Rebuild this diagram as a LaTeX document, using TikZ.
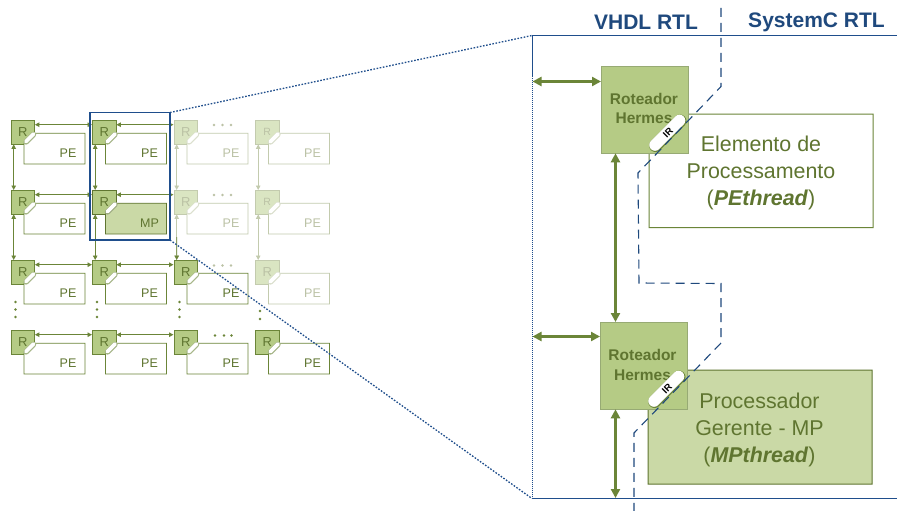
\documentclass[tikz,border=0pt]{standalone}
\usepackage{fontspec}
\setmainfont{Liberation Sans}
\usetikzlibrary{arrows.meta,calc}
\definecolor{gfill}{HTML}{B5CB85}
\definecolor{gline}{HTML}{6B8538}
\definecolor{gtext}{HTML}{5F7530}
\definecolor{mpfill}{HTML}{CAD9A6}
\definecolor{ffill}{HTML}{DAE5C2}
\definecolor{fline}{HTML}{C3CBAE}
\definecolor{ftext}{HTML}{BBC2A5}
\definecolor{frameblue}{HTML}{1F4E8C}
\definecolor{dashblue}{HTML}{1F497D}
\newcommand{\fs}[1]{\fontsize{#1}{#1}\selectfont}
\tikzset{
  x=1pt,y=-1pt,
  router/.style={draw=#1,line width=0.9pt,minimum width=23.5pt,minimum height=23.5pt,inner sep=0pt,anchor=north west},
  link/.style={draw=#1,line width=0.9pt,{Triangle[length=4.5pt,width=4.5pt]}-{Triangle[length=4.5pt,width=4.5pt]}},
  bigrouter/.style={draw=gline!70,fill=gfill,line width=0.8pt,minimum width=86.5pt,minimum height=86.5pt,inner sep=0pt,anchor=north west},
  biglink/.style={draw=gline,line width=2.2pt,{Triangle[length=9pt,width=9pt]}-{Triangle[length=9pt,width=9pt]}},
  bigtext/.style={font=\fs{21.4},text=gtext,align=center,inner sep=0pt},
  routertext/.style={font=\fs{15.5}\bfseries,text=gtext,align=center,inner sep=0pt},
  titletext/.style={font=\fs{21}\bfseries,text=dashblue,inner sep=0pt},
  boundary/.style={draw=dashblue,line width=1.1pt,dash pattern=on 9pt off 6pt},
  framemain/.style={draw=frameblue,line width=1.3pt},
  zoomline/.style={draw=frameblue,line width=1.3pt,dash pattern=on 1.6pt off 1.6pt},
  dotmark/.style={circle,fill=#1,inner sep=0pt,minimum size=2.6pt},
}
\newcommand{\tile}[9]{%
  \node[router=#6,fill=#5,font=\fs{#9},text=#7] (#1) at (#2,#3) {\raisebox{0pt}{R}};
  \path[draw=#6,fill=#8,line width=0.9pt] (#2+23.5,#3+13.2) -- (#2+74.5,#3+13.2) -- (#2+74.5,#3+44) -- (#2+13.5,#3+44) -- (#2+13.5,#3+23.5) -- cycle;
  \draw[line width=5.4pt,line cap=round,draw=#6!60] (#2+23,#3+14.5) -- (#2+15.5,#3+22);
  \draw[white,line width=3.8pt,line cap=round] (#2+23,#3+14) -- (#2+15.5,#3+21.5);
  \node[font=\fs{12.5},text=#7,inner sep=0pt] (#1l) at (#2+57.5,#3+33) {#4};
}
\begin{document}
\begin{tikzpicture}
\useasboundingbox (0,0) rectangle (897,511);
\fill[white] (0,0) rectangle (897,511);

\tile{a1}{10.5}{120}{PE}{gfill}{gline}{gtext}{white}{13}
\tile{a2}{10.5}{190}{PE}{gfill}{gline}{gtext}{white}{13}
\tile{a3}{10.5}{260}{PE}{gfill}{gline}{gtext}{white}{13}
\tile{a4}{10.5}{330}{PE}{gfill}{gline}{gtext}{white}{13}
\tile{b1}{92}{120}{PE}{gfill}{gline}{gtext}{white}{13}
\tile{b2}{92}{190}{MP}{gfill}{gtext}{gtext}{mpfill}{13}
\tile{b3}{92}{260}{PE}{gfill}{gline}{gtext}{white}{13}
\tile{b4}{92}{330}{PE}{gfill}{gline}{gtext}{white}{13}
\tile{c1}{173.5}{120}{PE}{ffill}{fline}{ftext}{white}{13}
\tile{c2}{173.5}{190}{PE}{ffill}{fline}{ftext}{white}{13}
\tile{c3}{173.5}{260}{PE}{gfill}{gline}{gtext}{white}{13}
\tile{c4}{173.5}{330}{PE}{gfill}{gline}{gtext}{white}{13}
\tile{d1}{255}{120}{PE}{ffill}{fline}{ftext}{white}{10.5}
\tile{d2}{255}{190}{PE}{ffill}{fline}{ftext}{white}{10.5}
\tile{d3}{255}{260}{PE}{ffill}{fline}{ftext}{white}{13}
\tile{d4}{255}{330}{PE}{gfill}{gline}{gtext}{white}{13}

\foreach \p/\q/\c in {a1/b1/gline,b1/c1/gline,a2/b2/gline,b2/c2/gline,a3/b3/gline,b3/c3/gline,a4/b4/gline,b4/c4/gline}{
  \draw[link=\c] ([yshift=7.5pt]\p.east) -- ([yshift=7.5pt]\q.west);
}
\foreach \p/\q/\c in {a1/a2/gline,a2/a3/gline,b1/b2/gline,b2/b3/gline,c1/c2/fline,c2/c3/fline,d1/d2/fline,d2/d3/fline}{
  \draw[link=\c] ([xshift=-9pt]\p.south) -- ([xshift=-9pt]\q.north);
}
\coordinate (c23m) at ($(c2.south)!0.5!(c3.north)$);
\draw[draw=gline,line width=0.9pt,-{Triangle[length=4.5pt,width=4.5pt]}] ([xshift=-9pt]c23m) -- ([xshift=-9pt]c3.north);

\foreach \x/\y/\c in {
  214/125/ftext,222.5/125/ftext,231/125/ftext,
  214/195/ftext,222.5/195/ftext,231/195/ftext,
  214/265.5/ftext,222.5/265.5/ftext,231/265.5/ftext,
  215/335.5/gline,224/335.5/gline,231.5/335.5/gline,
  15.5/302/gline,15.5/309.5/gline,15.5/317/gline,
  97/302/gline,97/309.5/gline,97/317/gline,
  179.5/302/gline,179.5/309.5/gline,179.5/317/gline,
  260/311/gline,260/319/gline}{
  \node[dotmark=\c] at (\x,\y) {};
}

\coordinate (wtr) at (170,112.5);
\coordinate (wbr) at (170,240);
\coordinate (wtl) at (90,112.5);
\coordinate (wbl) at (90,240);
\draw[framemain] (wtl) -- (wtr) -- (wbr) -- (wbl) -- cycle;
\coordinate (ftl) at (532,35.5);
\coordinate (fbl) at (532,498.5);
\coordinate (ftr) at (897,35.5);
\coordinate (fbr) at (897,498.5);
\draw[zoomline] (wtr) -- (ftl);
\draw[zoomline] (wbr) -- (fbl);
\draw[framemain] (ftr) -- (ftl);
\draw[framemain] (fbr) -- (fbl);
\draw[draw=frameblue,line width=0.9pt,dash pattern=on 1.5pt off 0.5pt] (ftl) -- (fbl);

\path[draw=gline,fill=white,line width=1pt] (688,114) -- (873,114) -- (873,227.5) -- (649,227.5) -- (649,152.5) -- cycle;
\path[draw=gtext,fill=mpfill,line width=1pt] (687,370) -- (872,370) -- (872,484) -- (648,484) -- (648,408.5) -- cycle;
\node[bigtext] (petxt) at (761,173) {Elemento de\\[5.2pt]Processamento\\[5.2pt](\textbf{\textit{PEthread}})};
\node[bigtext] (mptxt) at (759.5,430) {Processador\\[5.2pt]Gerente - MP\\[5.2pt](\textbf{\textit{MPthread}})};

\node[bigrouter] (r1) at (601,66) {};
\node[bigrouter] (r2) at (600,322) {};
\node[routertext] (r1t) at (644,108.5) {Roteador\\[4pt]Hermes};
\node[routertext] (r2t) at (642.5,365) {Roteador\\[4pt]Hermes};

\draw[gline,line width=13pt,line cap=round] (680,121) -- (655.5,145.5);
\draw[white,line width=11.6pt,line cap=round] (679.5,120.5) -- (655,145);
\draw[gline,line width=13pt,line cap=round] (679,377) -- (654.5,401.5);
\draw[white,line width=11.6pt,line cap=round] (678.5,376.5) -- (654,401);
\node[font=\fs{9.5}\bfseries,text=black,rotate=45,inner sep=0pt] (ir1) at (668,132.5) {IR};
\node[font=\fs{9.5}\bfseries,text=black,rotate=45,inner sep=0pt] (ir2) at (667,389) {IR};

\coordinate (b0) at (721,8);
\coordinate (b1c) at (721,86.5);
\coordinate (b2c) at (638,173);
\coordinate (b3c) at (639,283);
\coordinate (b4c) at (721,283.5);
\coordinate (b5c) at (721,343);
\coordinate (b6c) at (634,433);
\coordinate (b7c) at (634,511);
\draw[boundary] (b0) -- (b1c) -- (b2c) -- (b3c) -- (b4c) -- (b5c) -- (b6c) -- (b7c);

\coordinate (e1) at (532.5,81.5);
\coordinate (e2) at (532.5,336.5);
\coordinate (e3) at (615.5,498);
\draw[biglink] (e1) -- (r1.west |- e1);
\draw[biglink] (e2) -- (r2.west |- e2);
\draw[biglink] (r1.south -| e3) -- (r2.north -| e3);
\draw[biglink] (r2.south -| e3) -- (e3);

\node[titletext] (t1) at (646,22) {VHDL RTL};
\node[titletext] (t2) at (816.5,22) {SystemC RTL};
\end{tikzpicture}
\end{document}
